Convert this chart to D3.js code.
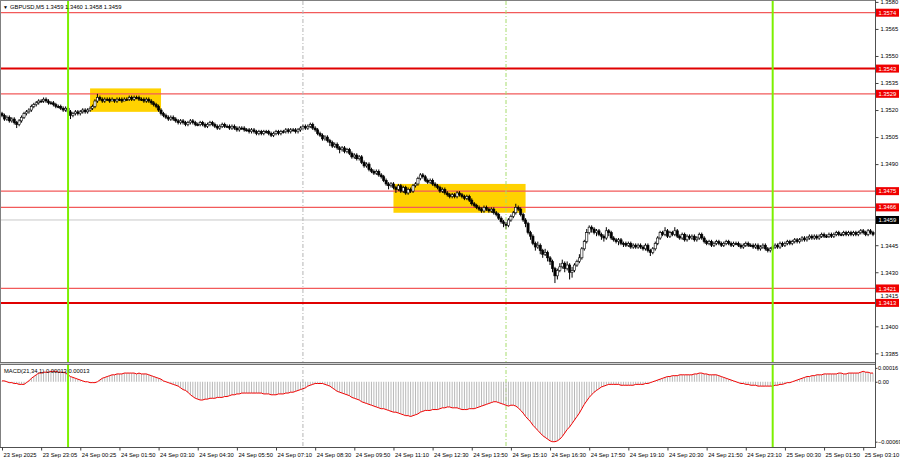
<!DOCTYPE html>
<html><head><meta charset="utf-8">
<script src="https://cdn.jsdelivr.net/npm/d3@7"></script>
<style>
html,body{margin:0;padding:0;background:#fff;}
svg{display:block;font-family:"Liberation Sans",Arial,sans-serif;}
</style></head><body>
<svg id="c" width="900" height="460"></svg>
<script>
// ---------- DATA ----------
const symbol = "GBPUSD,M5";
const quote = ["1.3459", "1.3460", "1.3458", "1.3459"];
const basePrice = 1.3400;          // OHLC stored in pips above basePrice
const firstOpenPips = 118;
const closePips = [
117,115,116,114,115,113,112,114,116,118,
119,120,122,123,124,125,125,126,125,124,
124,123,122,122,121,120,121,119,117,118,
119,118,119,120,119,120,121,122,125,127,
126,125,126,126,125,126,125,126,126,125,
126,126,127,126,127,127,126,126,125,126,
125,124,123,122,120,118,117,116,115,116,
115,114,113,114,113,112,113,114,113,112,
112,113,112,111,112,113,112,111,110,111,
112,111,111,110,111,110,109,110,110,109,
109,108,109,108,107,108,107,108,108,107,
106,107,108,107,108,108,109,108,109,109,
108,109,110,111,110,111,112,110,109,107,
106,104,105,103,102,100,101,99,98,99,
97,98,96,94,95,93,94,91,89,90,
87,86,85,86,84,83,81,79,78,79,
77,76,78,75,77,74,76,75,78,79,
82,84,83,81,80,81,79,78,77,75,
76,74,73,72,73,72,74,73,72,71,
72,70,68,67,66,65,64,66,65,64,
65,63,62,60,58,57,56,59,61,63,
66,65,62,59,57,52,50,46,44,45,
42,40,41,38,36,32,28,31,33,35,
32,34,30,31,34,36,38,43,47,52,
55,54,52,53,51,50,49,53,52,49,
48,47,48,46,46,45,46,44,45,44,
45,44,43,45,42,41,43,46,49,52,
51,53,50,52,51,53,50,49,51,48,
50,49,50,48,49,51,49,47,46,47,
45,46,47,46,45,46,47,46,45,46,
46,45,44,45,46,45,45,44,45,43,
44,45,43,42,43,44,45,44,46,45,
46,47,46,47,48,47,48,49,48,49,
50,49,50,49,50,51,50,50,51,50,
51,52,51,51,52,51,52,51,52,51,
52,53,52,51,53,52,51];
const highPips = [
119,118,117,117,116,116,114,115,117,119,
120,121,123,124,125,126,126,127,127,126,
125,125,124,123,123,122,122,122,120,119,
120,120,120,121,121,121,122,123,126,129,
128,127,127,127,127,127,126,127,127,127,
127,127,128,128,128,128,128,127,127,127,
127,126,125,124,123,121,119,118,117,117,
117,116,115,115,115,114,114,115,115,114,
113,114,114,113,113,114,114,113,112,112,
113,113,112,112,112,112,111,111,111,111,
110,110,110,110,109,109,109,109,109,109,
108,108,109,109,109,109,110,110,110,110,
110,110,111,112,112,112,113,113,111,110,
108,107,106,106,104,103,102,102,100,100,
100,99,99,97,96,96,95,95,92,91,
91,88,87,87,87,85,84,82,80,80,
80,78,79,79,78,78,77,77,79,80,
83,85,85,84,82,82,82,80,79,78,
77,77,75,74,74,74,75,75,74,73,
73,73,71,69,68,67,66,67,67,66,
66,66,64,63,61,59,58,60,62,64,
68,67,66,63,60,58,53,51,47,47,
46,43,43,42,39,37,33,32,35,37,
36,36,35,33,35,37,40,44,48,54,
56,56,55,54,54,52,51,55,54,53,
50,49,49,49,47,47,47,47,46,46,
46,46,45,46,46,43,44,47,50,53,
53,55,54,53,53,55,54,51,52,52,
51,51,51,51,50,52,52,50,48,48,
48,47,48,48,47,47,48,48,47,47,
47,47,46,46,47,47,46,46,46,46,
45,46,46,44,44,45,46,46,47,47,
47,48,48,48,49,49,49,50,50,50,
51,51,51,51,51,52,52,51,52,52,
52,53,53,52,53,53,53,53,53,53,
53,54,54,53,54,54,53];
const lowPips = [
116,114,114,113,113,112,110,111,113,115,
117,118,119,121,122,123,124,124,124,123,
123,122,121,121,120,119,119,118,115,116,
117,117,117,118,118,118,119,120,121,124,
125,124,124,125,124,125,124,124,125,124,
125,125,125,125,125,126,125,125,124,124,
124,123,122,121,119,117,116,115,114,114,
114,113,112,112,112,111,111,112,112,111,
111,111,111,110,110,111,111,110,109,109,
110,110,110,109,109,109,108,108,109,108,
108,107,107,107,106,106,106,106,107,106,
105,105,106,106,106,107,107,107,107,108,
107,107,108,109,109,109,110,109,108,106,
105,103,103,102,100,99,99,98,96,97,
96,96,95,93,93,92,92,90,88,88,
86,85,84,84,83,82,80,78,76,77,
76,74,75,74,74,73,73,74,74,77,
78,81,82,80,79,79,78,77,76,74,
74,73,72,71,71,71,71,72,71,70,
70,69,67,66,65,64,63,63,64,63,
63,62,61,59,57,55,54,55,58,60,
62,64,61,58,55,51,48,45,42,43,
40,38,39,36,34,30,24,26,30,32,
30,31,26,27,30,33,35,37,42,46,
51,52,51,50,50,48,47,48,50,48,
47,46,45,45,44,44,44,43,43,43,
43,43,42,42,41,39,40,42,45,48,
50,50,49,49,50,50,49,48,48,47,
47,48,48,47,47,48,48,46,45,45,
44,44,45,45,44,44,45,45,44,44,
45,44,43,43,44,44,44,43,43,42,
42,43,42,41,41,42,43,43,43,44,
44,45,45,45,46,46,46,47,47,47,
48,48,48,48,48,49,49,49,49,49,
49,50,50,50,50,50,50,50,50,50,
50,51,51,50,50,51,50];
// MACD main value per bar, in units of 0.00001
const macdVals = [
1,1,0,-1,-1,-2,-2,-3,-3,-3,
-1,1,4,6,8,10,10,11,11,11,
12,12,12,11,11,11,10,8,6,5,
4,3,2,1,0,0,-1,-1,-1,0,
2,4,5,6,7,8,8,9,9,9,
10,10,10,10,10,9,10,9,9,9,
8,7,6,5,4,3,1,0,-1,-2,
-3,-4,-5,-7,-9,-10,-12,-15,-17,-19,
-20,-21,-21,-20,-20,-19,-19,-19,-18,-18,
-18,-17,-17,-16,-15,-15,-14,-14,-13,-13,
-13,-13,-13,-13,-13,-13,-13,-14,-14,-14,
-15,-15,-15,-14,-14,-14,-13,-13,-12,-12,
-11,-10,-9,-8,-7,-5,-4,-3,-2,-2,
-2,-2,-3,-4,-5,-7,-9,-11,-12,-13,
-14,-15,-16,-18,-19,-20,-21,-23,-24,-25,
-26,-27,-28,-29,-30,-31,-31,-32,-33,-34,
-35,-35,-36,-37,-38,-39,-39,-40,-39,-38,
-37,-35,-34,-33,-33,-33,-32,-32,-32,-31,
-30,-30,-29,-29,-30,-30,-30,-31,-32,-32,
-32,-31,-31,-31,-30,-29,-28,-27,-26,-25,
-24,-23,-23,-24,-25,-26,-27,-28,-27,-27,
-28,-30,-33,-36,-40,-43,-46,-50,-53,-56,
-59,-62,-64,-66,-68,-69,-69,-68,-66,-63,
-59,-55,-52,-48,-44,-40,-36,-31,-26,-22,
-18,-15,-12,-10,-8,-6,-5,-4,-3,-3,
-3,-3,-3,-4,-4,-4,-4,-4,-4,-3,
-3,-3,-3,-2,-2,-1,0,1,2,3,
4,5,6,6,7,7,7,8,8,8,
8,8,8,9,9,10,10,9,9,8,
8,8,8,7,6,5,4,3,2,1,
0,-1,-2,-2,-3,-3,-4,-4,-4,-5,
-5,-5,-5,-5,-5,-5,-4,-4,-3,-3,
-2,-1,-1,0,1,2,3,4,5,6,
6,7,7,8,8,8,9,9,9,9,
9,9,10,10,9,9,10,10,10,10,
10,11,12,11,11,10,10];
const macdLabel = "MACD(21,34,1) 0.00013 0.00013";
const timeLabels = ["23 Sep 2025","23 Sep 23:05","24 Sep 00:25","24 Sep 01:50","24 Sep 03:10",
  "24 Sep 04:30","24 Sep 05:50","24 Sep 07:10","24 Sep 08:30","24 Sep 09:50","24 Sep 11:10",
  "24 Sep 12:30","24 Sep 13:50","24 Sep 15:10","24 Sep 16:30","24 Sep 17:50","24 Sep 19:10",
  "24 Sep 20:30","24 Sep 21:50","24 Sep 23:10","25 Sep 00:30","25 Sep 01:50","25 Sep 03:10"];
const barsPerLabel = 16;
// 1.3475 and 1.3460 sit under the level/bid tags and are not visible
const priceTicks = [1.3580,1.3565,1.3550,1.3535,1.3520,1.3505,1.3490,1.3445,1.3430,1.3415,1.3400,1.3385];
const macdTicks = [0.00016, 0, -0.00069];
const levelsThick = [1.3543, 1.3413];
const levelsThin = [1.3574, 1.3529, 1.3475, 1.3466, 1.3421];
const bidPrice = 1.3459;
const dayLineBars = [27, 315];
const sessionLineBars = [123, 206];
const boxFrom = [36, 160], boxTo = [65, 214], boxLow = [1.3519, 1.3463], boxHigh = [1.3532, 1.3479];

// ---------- CHART ----------
const svg = d3.select("#c");
const W = 875, mainTop = 1, mainBot = 362, macdTop = 365, macdBot = 447;
const N = closePips.length;
const x = d3.scaleLinear().domain([0, N - 1]).range([2, 873]);
const y = d3.scaleLinear().domain([1.33802, 1.35805]).range([mainBot, mainTop]);
const ym = d3.scaleLinear().domain([-0.000751, 0.000193]).range([macdBot, macdTop]);
const P = p => basePrice + p / 1e4;

const candles = closePips.map((c, i) => ({
  i, o: P(i === 0 ? firstOpenPips : closePips[i - 1]), h: P(highPips[i]), l: P(lowPips[i]), c: P(c)
}));

svg.append("rect").attr("width", 900).attr("height", 460).attr("fill", "#fff");

const defs = svg.append("defs");
defs.append("clipPath").attr("id", "cm").append("rect").attr("x", 0).attr("y", 0).attr("width", W).attr("height", mainBot);
defs.append("clipPath").attr("id", "cmd").append("rect").attr("x", 0).attr("y", macdTop).attr("width", W).attr("height", macdBot - macdTop);

const main = svg.append("g").attr("clip-path", "url(#cm)");

// boxes
main.selectAll("rect.box").data(boxFrom).join("rect").attr("class", "box")
  .attr("x", (d, k) => x(boxFrom[k]))
  .attr("width", (d, k) => x(boxTo[k]) - x(boxFrom[k]))
  .attr("y", (d, k) => y(boxHigh[k]))
  .attr("height", (d, k) => y(boxLow[k]) - y(boxHigh[k]))
  .attr("fill", "#FFD200");

// bid line
main.append("line").attr("x1", 0).attr("x2", W).attr("y1", y(bidPrice)).attr("y2", y(bidPrice))
  .attr("stroke", "#c8c8c8").attr("stroke-width", 1);

// level lines
main.selectAll("line.thin").data(levelsThin).join("line")
  .attr("x1", 0).attr("x2", W).attr("y1", d => y(d)).attr("y2", d => y(d))
  .attr("stroke", "#f25a5a").attr("stroke-width", 1.2);
main.selectAll("line.thick").data(levelsThick).join("line")
  .attr("x1", 0).attr("x2", W).attr("y1", d => y(d)).attr("y2", d => y(d))
  .attr("stroke", "#e00000").attr("stroke-width", 2);

// session dashed lines (both panels)
const sessColors = ["#b4b4b4", "#a6dc6c"];
sessionLineBars.forEach((b, k) => {
  svg.append("line").attr("x1", x(b)).attr("x2", x(b)).attr("y1", mainTop).attr("y2", macdBot)
    .attr("stroke", sessColors[k]).attr("stroke-width", 1).attr("stroke-dasharray", "4,2,1,2");
});

// candles
const cg = main.append("g");
cg.selectAll("line.wick").data(candles).join("line")
  .attr("x1", d => x(d.i)).attr("x2", d => x(d.i))
  .attr("y1", d => y(d.h)).attr("y2", d => y(d.l))
  .attr("stroke", "#000").attr("stroke-width", 1);
cg.selectAll("rect.body").data(candles).join("rect")
  .attr("x", d => x(d.i) - 1.1).attr("width", 2.2)
  .attr("y", d => y(Math.max(d.o, d.c)))
  .attr("height", d => Math.max(1, Math.abs(y(d.o) - y(d.c))))
  .attr("fill", d => d.c > d.o ? "#fff" : "#000")
  .attr("stroke", "#000").attr("stroke-width", 0.6);

// MACD panel
const mg = svg.append("g").attr("clip-path", "url(#cmd)");
mg.selectAll("line.h").data(macdVals).join("line")
  .attr("x1", (d, i) => x(i)).attr("x2", (d, i) => x(i))
  .attr("y1", ym(0)).attr("y2", d => ym(d / 1e5))
  .attr("stroke", "#b8b8b8").attr("stroke-width", 1);
mg.append("path").datum(macdVals)
  .attr("d", d3.line().x((d, i) => x(i)).y(d => ym(d / 1e5)))
  .attr("fill", "none").attr("stroke", "#f00000").attr("stroke-width", 1);

// day separator green lines (both panels)
dayLineBars.forEach(b => {
  svg.append("line").attr("x1", x(b)).attr("x2", x(b)).attr("y1", 0).attr("y2", macdBot)
    .attr("stroke", "#7cf000").attr("stroke-width", 2);
});

// frames
svg.append("line").attr("x1", 0.5).attr("x2", 0.5).attr("y1", 0).attr("y2", macdBot).attr("stroke", "#808080");
svg.append("line").attr("x1", 0).attr("x2", W).attr("y1", 0.5).attr("y2", 0.5).attr("stroke", "#808080");
svg.append("rect").attr("x", 0).attr("y", mainBot).attr("width", W).attr("height", 3).attr("fill", "#d0d0d0");
svg.append("line").attr("x1", 0).attr("x2", W).attr("y1", mainBot + 0.5).attr("y2", mainBot + 0.5).attr("stroke", "#707070");
svg.append("line").attr("x1", 0).attr("x2", W).attr("y1", macdTop - 0.5).attr("y2", macdTop - 0.5).attr("stroke", "#707070");
svg.append("line").attr("x1", 0).attr("x2", W + 1).attr("y1", macdBot + 0.5).attr("y2", macdBot + 0.5).attr("stroke", "#505050");
svg.append("line").attr("x1", W + 0.5).attr("x2", W + 0.5).attr("y1", 0).attr("y2", macdBot + 1).attr("stroke", "#505050");

const fs = "5.8px";
// price axis
const pa = svg.append("g").attr("transform", `translate(${W + 0.5},0)`)
  .call(d3.axisRight(y).tickValues(priceTicks).tickFormat(d3.format(".4f")).tickSize(3).tickPadding(2));
pa.select(".domain").remove();
pa.selectAll("line").attr("stroke", "#404040");
pa.selectAll("text").attr("font-size", fs).attr("fill", "#000").attr("font-family", "Liberation Sans, Arial");
// the 1.3415 label peeks out just above the 1.3413 tag
pa.selectAll(".tick").filter(d => Math.abs(d - 1.3415) < 1e-6).select("text").attr("dy", "-0.35em");

// MACD axis
const ma = svg.append("g").attr("transform", `translate(${W + 0.5},0)`)
  .call(d3.axisRight(ym).tickValues(macdTicks).tickFormat(d => d === 0 ? "0.00" : d3.format(".5f")(d)).tickSize(2).tickPadding(0.5));
ma.select(".domain").remove();
ma.selectAll("line").attr("stroke", "#404040");
ma.selectAll("text").attr("font-size", "5.6px").attr("fill", "#000").attr("font-family", "Liberation Sans, Arial");

// time axis
const tickBars = timeLabels.map((t, k) => k * barsPerLabel);
const ta = svg.append("g").attr("transform", `translate(0,${macdBot + 0.5})`)
  .call(d3.axisBottom(x).tickValues(tickBars).tickFormat((d, k) => timeLabels[k]).tickSize(3).tickPadding(2));
ta.select(".domain").remove();
ta.selectAll("line").attr("stroke", "#404040");
ta.selectAll("text").attr("font-size", fs).attr("fill", "#000").attr("text-anchor", "start").attr("dx", "1")
  .attr("font-family", "Liberation Sans, Arial");

// level labels on price axis
function axisTag(price, bg, fg) {
  const g = svg.append("g").attr("transform", `translate(${W + 1},${y(price)})`);
  g.append("rect").attr("x", 0).attr("y", -4).attr("width", 23).attr("height", 8).attr("fill", bg);
  g.append("text").attr("x", 2.5).attr("y", 2.1).attr("font-size", fs).attr("fill", fg).text(d3.format(".4f")(price));
}
levelsThin.concat(levelsThick).forEach(p => axisTag(p, "#f00000", "#fff"));
axisTag(bidPrice, "#000", "#fff");

// header
svg.append("text").attr("x", 3).attr("y", 8.5).attr("font-size", "5px").attr("fill", "#000").text("▼");
svg.append("text").attr("x", 10).attr("y", 8.5).attr("font-size", fs).attr("fill", "#000")
  .text(symbol + " " + quote.join(" "));
svg.append("text").attr("x", 4).attr("y", macdTop + 8).attr("font-size", fs).attr("fill", "#000").text(macdLabel);
</script>
</body></html>
